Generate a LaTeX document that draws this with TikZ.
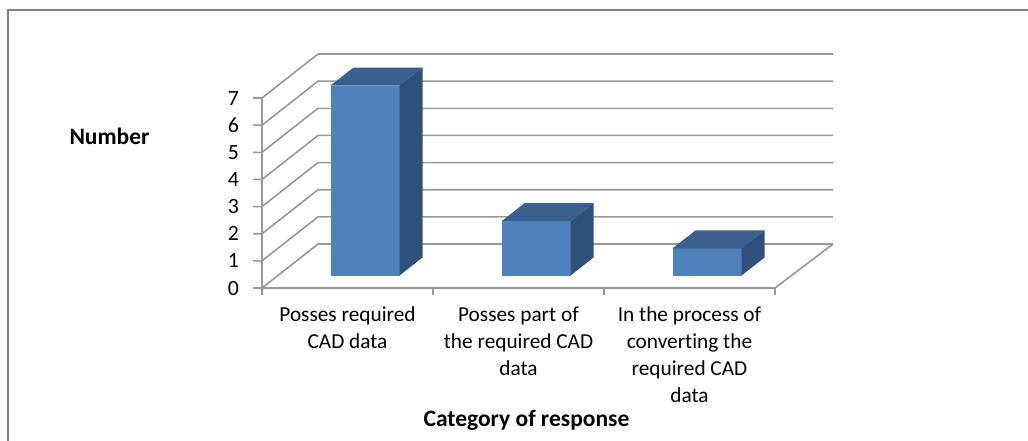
\documentclass[tikz,border=0pt]{standalone}
\usepackage{fontspec}
\setmainfont{Carlito}[RawFeature=-liga]
\usetikzlibrary{positioning}
\definecolor{barfront}{RGB}{79,129,189}
\definecolor{bartop}{RGB}{58,96,142}
\definecolor{barside}{RGB}{47,80,122}
\definecolor{gridgray}{RGB}{152,152,152}
\definecolor{framegray}{RGB}{128,128,128}
\tikzset{%
    gl/.style={draw=gridgray,line width=1.6pt},
    fr/.style={draw=framegray,line width=2.6pt},
    lbl/.style={inner sep=0pt,align=center,font=\fontsize{21.3}{26.8}\selectfont},
    num/.style={inner sep=0pt,anchor=east,font=\fontsize{21.8}{26.8}\selectfont},
    ttl/.style={inner sep=0pt,font=\fontsize{23.5}{28}\bfseries\selectfont}
}

\begin{document}
\begin{tikzpicture}[x=1pt,y=-1pt]
            \clip (0,0) rectangle (1028,440);
            \useasboundingbox (0,0) rectangle (1028,440);
            \draw[fr] (8,470) -- (8,10) -- (1060,10);
            %%%%% walls and floor
            \foreach \v in {0,...,7}
                \draw[gl] (253,288-27.14*\v) -- (262,288-27.14*\v) -- (318,244-27.14*\v) -- (833,244-27.14*\v);
            \draw[gl] (262,98) -- (262,295);
            \draw[gl] (262,288) -- (775,288) -- (833,244);
            \foreach \x in {433,604,775}
                \draw[gl] (\x,288) -- (\x,295);
            %%%%% bars
            \foreach \x/\v in {330.5/7,501.5/2,672.5/1}{
                \pgfmathsetmacro\t{275.5-27.14*\v}
                \fill[barfront] (\x,275.5) rectangle (\x+69,\t);
                \fill[bartop] (\x,\t) -- (\x+69,\t) -- (\x+92,\t-18) -- (\x+23,\t-18) -- cycle;
                \fill[barside] (\x+69,275.5) -- (\x+69,\t) -- (\x+92,\t-18) -- (\x+92,257.5) -- cycle;
            }
            %%%%% labels
            \foreach \v in {0,...,7}
                \node[num] (y\v) at (239,288-27.14*\v) {\v};
            \node[ttl] (ylab) at (109.5,136) {Number};
            \node[lbl,anchor=north] (cat1) at (347.5,307) {Posses required\\CAD data};
            \node[lbl,anchor=north] (cat2) at (518.5,307) {Posses part of\\the required CAD\\data};
            \node[lbl,anchor=north] (cat3) at (689.5,307) {In the process of\\converting the\\required CAD\\data};
            \node[ttl] (xlab) at (526.5,420) {Category of response};
\end{tikzpicture}
\end{document}
